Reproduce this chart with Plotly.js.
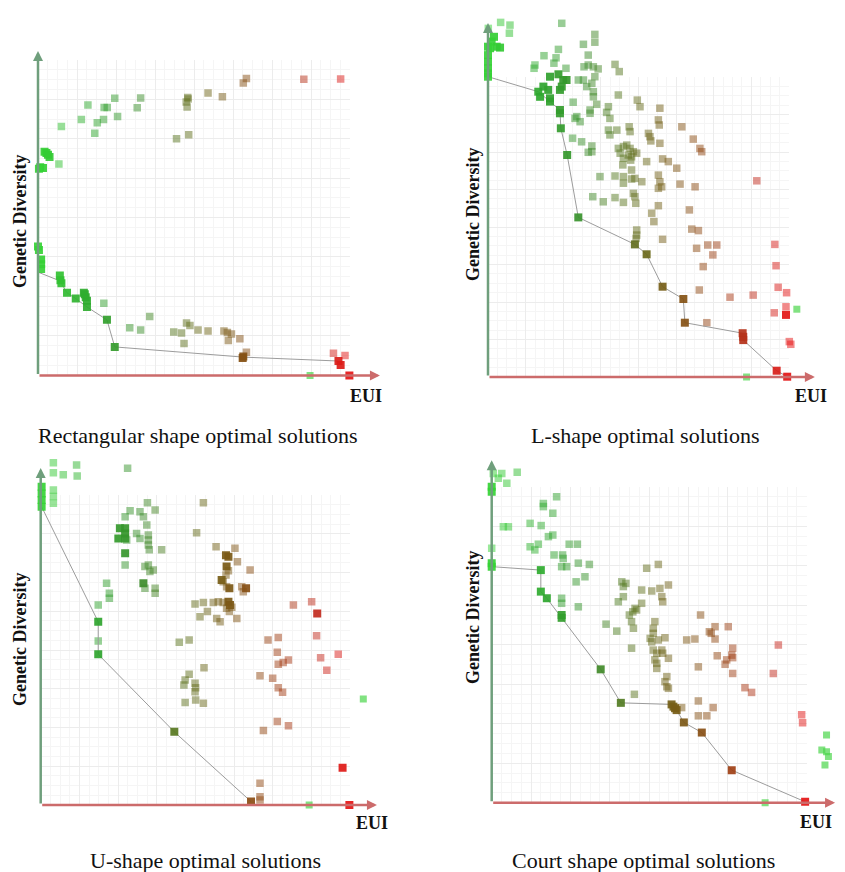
<!DOCTYPE html>
<html><head><meta charset="utf-8">
<script src="https://cdn.plot.ly/plotly-3.0.1.min.js"></script>
<style>html,body{margin:0;padding:0;background:#fff}#chart{width:845px;height:872px}</style>
</head><body><div id="chart"></div>
<script>
// ---------- DATA (EUI index 0-100, Genetic Diversity index 0-100) ----------
// Rectangular shape
const rectFadedX = [66.8,65.8,85.2,97.0,48.0,47.5,47.8,48.1,54.5,59.1,24.6,32.9,16.0,21.2,22.2,31.8,25.5,13.9,19.0,21.0,7.5,18.2,44.4,48.3,21.1,35.8,29.4,32.9,43.5,46.0,46.8,47.6,48.7,51.3,54.5,59.6,60.7,62.0,61.0,64.7,66.8,94.7,98.4,6.7];
const rectFadedY = [98.9,97.4,98.6,98.7,92.5,91.0,89.4,92.0,94.0,92.8,92.3,92.4,90.0,89.2,89.2,89.1,86.2,85.2,84.1,85.2,82.9,80.6,78.8,80.1,24.0,19.6,15.9,15.1,14.5,14.1,10.6,17.5,16.6,15.1,14.8,14.8,14.3,13.8,11.6,12.2,7.7,7.4,6.6,70.4];
const rectSolidX = [2.1,3.2,3.7,2.7,0.7,1.6,0.3,0,0.3,1,1,1,7.0,7.2,7.5,9.3,12.1,14.7,15.3,15.7,15.0,15.7,22.1,24.6,65.8,65.6,96.3,97.0,99.8];
const rectSolidY = [74.5,73.5,72.7,74.1,69.3,69.1,68.8,42.9,41.8,38.6,37.0,35.4,33.3,31.7,30.7,27.5,25.6,27.5,26.0,24.9,27.0,22.8,18.5,9.5,6.3,5.8,4.8,3.5,0];
const rectFrontX = [0,7.0,9.3,12.1,15.7,22.1,24.6,65.8,96.3];
const rectFrontY = [34.4,31.5,27.5,25.6,22.8,18.5,9.5,6.1,4.8];
const rectOddX = [87.2];
const rectOddY = [0];

// L-shape
const lFadedX = [4.2,7.3,7.1,0.1,24.5,35.5,35.5,31.7,23.4,18.6,22.6,21.9,33.3,42.2,43.6,15.6,15.3,25.9,31.9,33.3,35.0,36.6,35.5,30.0,31.7,32.8,34.5,35.0,35.0,36.1,43.3,28.3,33.9,33.9,40.0,39.4,40.5,29.5,30.6,28.9,49.6,50.5,57.1,56.6,56.9,46.9,47.2,40.0,42.8,40.5,53.3,53.8,54.1,64.4,28.1,31.1,34.5,34.5,33.3,43.3,45.0,46.1,47.2,48.3,43.9,46.6,47.7,49.4,45.0,44.8,47.4,52.7,57.1,68.2,70.4,71.0,58.0,59.9,62.7,47.7,37.2,42.2,45.0,47.7,48.8,51.1,45.0,56.6,57.1,57.7,56.6,63.8,68.8,89.3,48.3,48.8,34.8,42.2,38.3,45.0,49.1,56.6,54.4,55.1,66.9,67.7,69.9,49.4,49.4,49.2,58.0,69.3,73.0,76.0,74.7,71.5,70.2,80.4,88.1,95.3,95.7,96.4,99.2,99.0,95.1,100.1,100.6,72.7];
const lFadedY = [118.2,117.3,114.6,116.2,117.9,114.2,111.6,110.9,109.2,107.1,106.4,104.6,107.3,104.2,101.8,104,102.9,102.9,103.4,104,103.4,102.7,100.1,99,99,96.8,97.9,95.1,93.4,90.9,94,91.6,89,87.9,90.1,88.2,86.2,86.8,85.1,86.2,92.3,90.1,89.6,85.7,84,83.4,81.8,82.3,82.3,80.7,81.2,80.1,78.7,83.4,79.6,78.4,77,75.1,74.9,76.2,76.8,77.3,76.2,75.1,74.6,74,73.4,74.6,72.9,70.7,72.3,71.8,77.9,79.3,76.2,75.1,72.7,71.8,69.6,69,66.8,67,66.8,66,66.2,65.1,64.6,67.3,65.1,63.4,62.9,64.3,63.4,65.4,61.2,60.1,60.1,59.8,58.4,58.2,57.9,57.1,54.6,51.8,55.7,49.3,48.8,49,47.3,46.2,45.9,42.9,44,44,40.7,36.8,29,26.6,27.3,44.2,37.1,29.9,28.1,23.4,21.4,11.8,10.9,18.1];
const lSolidX = [2.0,1.2,2.9,4.0,0.7,0,0,0,0,0,0,20.6,23.4,25.0,26.1,24.5,23.9,16.7,17.3,18.4,20.0,20.6,20.6,23.9,23.9,24.2,26.3,30.0,48.8,52.7,58.0,64.9,65.4,84.6,84.8,84.8,95.9,99.4,99.0];
const lSolidY = [113.4,111.8,110.1,109.8,109.6,110.1,107.3,105.1,102.9,101.2,100.1,100.1,100.9,99,99,96.8,95.7,95.1,93.4,96.8,95.7,92.9,91.8,89,87.9,82.9,74,53.2,44.2,40.9,30.1,26,18.1,14.6,13.4,12.3,2.1,0.1,20.7];
const lFrontX = [0,16.7,20.6,23.9,24.2,26.3,30.0,48.8,52.7,58.0,64.9,65.4,84.6,84.8,95.9,99.4];
const lFrontY = [100.1,95.1,91.8,89,82.9,74,53.2,44.2,40.9,30.1,26,18.1,14.6,12.3,2.1,0.1];
const lOddX = [102.6,85.9];
const lOddY = [22.6,0];

// U-shape
const uFadedX = [4.1,4.1,7.3,11.6,11.8,28.1,4.1,4.1,4.1,34.5,37.0,28.9,32.1,33.2,27.3,34.3,27.8,31.0,32.1,34.8,34.8,34.8,35.1,39.1,27.3,33.7,34.8,35.3,36.4,33.7,37.0,37.0,21.3,22.2,22.2,18.6,52.6,50.4,56.7,62.8,63.6,60.7,59.9,67.7,59.0,60.1,65.0,65.5,49.9,52.6,55.8,57.4,59.0,60.1,61.8,51.5,53.9,56.9,58.0,63.4,61.0,81.7,87.6,18.6,44.8,48.0,52.8,48.0,46.7,46.3,49.9,50.1,49.9,46.7,50.1,52.6,73.5,76.8,76.5,76.8,78.4,80.1,70.9,75.0,76.8,78.2,89.2,90.5,92.5,96.2,76.5,80.1,72.0,70.9,70.9,70.9];
const uFadedY = [110.4,107.2,106.5,109.7,106.1,108.6,101.6,99.5,97.3,97.5,95.2,94.9,94.6,93,93,90.3,85.5,87.6,86,87.1,85.5,83.9,82.3,82.3,77.4,76.9,77.4,75.3,75.8,69.9,69.9,68.3,71.5,68.3,66.7,64.5,97.5,87.8,83.3,82.8,78.5,75.6,74.2,75.8,72,70.4,70.4,68.8,64.8,65.3,65.3,65.6,65.3,63.5,63.8,60.7,62.4,60.2,59.1,60.2,62.4,64.5,65.6,52.9,52.5,53.2,44.3,42.2,40.3,38.7,39.3,37.8,36.5,33.1,33.9,32.8,53.2,54,49.3,45.4,46,46.8,41.7,40.9,37.8,36.4,54.6,47.5,43.5,48.6,26.9,25.6,24,7,2.7,1.6];
const uSolidX = [0.3,0.3,0.3,0.3,25.6,27.3,27.3,25.1,27.3,27.3,33.2,59.9,60.7,60.1,58.5,61.0,66.4,60.7,61.2,18.6,18.6,43.2,68.0,99.8,97.6,89.4];
const uSolidY = [102.7,100.5,98.4,96.2,89.3,89.3,87.6,86,86,81.2,71.5,80.6,80.1,76.9,72.6,69.9,69.9,65.6,64.5,59.1,48.6,23.6,1.1,0,12,61.8];
const uFrontX = [0.3,18.6,18.6,43.2,68.0];
const uFrontY = [96.2,59.1,48.6,23.6,1.1];
const uOddX = [104.3,86.8];
const uOddY = [34.2,0];

// Court shape
const cFadedX = [0.5,3.2,2.1,4.8,8.1,0,20.6,16.4,16.4,19.4,3.7,5.3,12.2,15.7,18.0,19.4,12.2,13.7,14.8,24.6,27.2,19.8,22.5,22.7,22.2,23.8,27.5,31.0,29.6,26.8,22.2,22.2,27.5,49.2,52.9,41.3,42.6,41.8,47.6,50.8,53.4,56.1,54.0,54.3,40.2,41.8,47.6,45.5,44.8,46.0,43.7,44.4,45.0,36.3,39.7,51.8,51.3,51.3,66.3,70.9,69.1,75.1,69.7,55.0,44.4,50.3,50.8,52.9,61.9,64.5,70.9,51.3,52.4,54.3,56.1,51.8,52.4,52.4,54.0,55.6,55.0,55.6,56.1,76.5,76.2,74.6,74.1,76.5,71.6,65.6,76.5,91.0,89.4,80.4,82.5,45.3,60.3,65.6,70.3,65.6,68.3,98.4,98.7];
const cFadedY = [104.2,104.2,102.7,101.1,104.6,80.5,96.8,94.7,93.7,91.6,87.3,87.3,88.4,87.7,84.2,84.7,81,80,81.8,81.8,81.8,78.4,78.4,77.3,74.7,74.7,75.8,75.4,71.5,69.9,64.7,63.1,62,74.2,75.4,69.9,69.4,68.4,67.3,67,67.8,68.9,65.2,63.6,63.6,65.2,63.1,61.5,60.4,61,59.4,57.3,55.2,56.5,54.3,57.3,55.2,53.6,59.4,55.7,54.1,55.7,53.6,52.2,48.9,52,50.9,51.5,51.5,51.8,51.8,48.3,47.3,47.3,45.7,45.2,44.1,42.5,48.3,39.9,38.3,36.7,36.2,48.9,46.7,45.2,43.8,45.9,46.5,43,40.9,49.9,40.9,36.4,34.9,34.3,30.1,32.2,30.1,27.5,27.5,27.8,25.3];
const cSolidX = [0,0,0,0,15.6,15.6,17.5,22.2,22.2,34.6,41.0,57.1,57.7,58.2,58.7,61.0,66.7,76.2,99.5];
const cSolidY = [100,98.4,75.8,74.7,73.6,66.8,64.7,59.4,58.5,42.2,31.6,31.1,30.4,29.9,29.3,25.4,22.2,10.3,0.3];
const cFrontX = [0,15.6,15.6,17.5,22.2,34.6,41.0,57.1,58.7,61.0,66.7,76.2,99.5];
const cFrontY = [74.7,73.6,66.8,64.7,58.5,42.2,31.6,31.1,29.3,25.4,22.2,10.3,0.3];
const cOddX = [106.3,104.8,106.3,106.9,105.8,86.8];
const cOddY = [21.4,16.7,16.1,14.6,11.9,0];

const captions = ['Rectangular shape optimal solutions','L-shape optimal solutions','U-shape optimal solutions','Court shape optimal solutions'];
const yLabel = 'Genetic Diversity';
const xLabel = 'EUI';

// ---------- LAYOUT ----------
const W = 845, H = 872;
const fx = p => p / W, fy = p => 1 - p / H;
const SERIF = '"Liberation Serif", "Times New Roman", Times, serif';
const XR = [-3, 112], YR = [-3, 125];   // data-axis extents (grid covers 0-100)

const panels = [
  {fx:rectFadedX, fyy:rectFadedY, sx:rectSolidX, sy:rectSolidY, lx:rectFrontX, ly:rectFrontY, ox:rectOddX, oy:rectOddY,
   g:{x0:38, x1:350, top:60, bot:375, yTop:108, xEnd:109.6, lab:[20,222], eui:[366,396], cap:[197.5,435]}},
  {fx:lFadedX, fyy:lFadedY, sx:lSolidX, sy:lSolidY, lx:lFrontX, ly:lFrontY, ox:lOddX, oy:lOddY,
   g:{x0:488, x1:789, top:77, bot:377, yTop:118, xEnd:108.6, lab:[473,214], eui:[811,396], cap:[645,435]}},
  {fx:uFadedX, fyy:uFadedY, sx:uSolidX, sy:uSolidY, lx:uFrontX, ly:uFrontY, ox:uOddX, oy:uOddY,
   g:{x0:40.7, x1:350, top:495, bot:805, yTop:108.7, xEnd:108.7, lab:[20,640], eui:[372,823], cap:[205,860]}},
  {fx:cFadedX, fyy:cFadedY, sx:cSolidX, sy:cSolidY, lx:cFrontX, ly:cFrontY, ox:cOddX, oy:cOddY,
   g:{x0:491.7, x1:806.7, top:486.7, bot:802.7, yTop:108.4, xEnd:109, lab:[473,617], eui:[816,822], cap:[643.5,860]}}
];

const cscale = [[0,'#35d335'],[0.18,'#2ea52e'],[0.32,'#3a8f2c'],[0.42,'#557a22'],[0.52,'#6a6a1c'],[0.6,'#7a5a16'],[0.7,'#8f4a14'],[0.8,'#a83a16'],[0.9,'#c42a1e'],[1,'#e61414']];

const traces = [];
const layout = {
  width: W, height: H, margin:{l:0,r:0,t:0,b:0},
  paper_bgcolor:'#ffffff', plot_bgcolor:'rgba(0,0,0,0)', showlegend:false,
  annotations: []
};
const axName = (k, n) => n === 1 ? k : k + n;
const axId = (k, n) => n === 1 ? k : k + n;

panels.forEach((p, i) => {
  const g = p.g;
  const gN = i + 1, dN = i + 5;
  const ux = (g.x1 - g.x0) / 100, uy = (g.bot - g.top) / 100;
  // grid axes (0-100 over the grid area)
  const gridAx = {range:[0,100], showline:false, zeroline:false, showticklabels:false, ticks:'',
    tickmode:'linear', tick0:0, dtick:12.5, showgrid:true, gridcolor:'#ececec', gridwidth:1,
    minor:{tickmode:'linear', tick0:0, dtick:3.125, showgrid:true, gridcolor:'#f5f5f5', gridwidth:1},
    fixedrange:true};
  layout[axName('xaxis', gN)] = Object.assign({}, gridAx, {domain:[fx(g.x0), fx(g.x1)], anchor: axId('y', gN)});
  layout[axName('yaxis', gN)] = Object.assign({}, gridAx, {domain:[fy(g.bot), fy(g.top)], anchor: axId('x', gN)});
  traces.push({type:'scatter', mode:'markers', x:[], y:[], xaxis:axId('x', gN), yaxis:axId('y', gN), hoverinfo:'skip'});
  // data axes (same scale, larger extent so off-grid points are drawn)
  const dataAx = {showline:false, zeroline:false, showticklabels:false, ticks:'', showgrid:false, fixedrange:true};
  layout['xaxis' + dN] = Object.assign({}, dataAx, {range:XR, anchor:'y' + dN,
    domain:[fx(g.x0 + XR[0]*ux), fx(g.x0 + XR[1]*ux)]});
  layout['yaxis' + dN] = Object.assign({}, dataAx, {range:YR, anchor:'x' + dN,
    domain:[fy(g.bot - YR[0]*uy), fy(g.bot - YR[1]*uy)]});
  const xa = 'x' + dN, ya = 'y' + dN;

  traces.push({type:'scatter', mode:'markers', x:p.fx, y:p.fyy, xaxis:xa, yaxis:ya, hoverinfo:'skip',
    marker:{symbol:'square', size:7.5, color:p.fx, cmin:0, cmax:100, colorscale:cscale, opacity:0.5, line:{width:0}}});
  traces.push({type:'scatter', mode:'lines', x:p.lx, y:p.ly, xaxis:xa, yaxis:ya, hoverinfo:'skip',
    line:{color:'#9c9c9c', width:1}});
  traces.push({type:'scatter', mode:'markers', x:p.sx, y:p.sy, xaxis:xa, yaxis:ya, hoverinfo:'skip',
    marker:{symbol:'square', size:8, color:p.sx, cmin:0, cmax:100, colorscale:cscale, opacity:0.92, line:{width:0}}});
  traces.push({type:'scatter', mode:'markers', x:p.ox, y:p.oy, xaxis:xa, yaxis:ya, hoverinfo:'skip',
    marker:{symbol:'square', size:7, color:'#4cd64c', opacity:0.7, line:{width:0}}});

  // axis arrows
  layout.annotations.push({xref:xa, yref:ya, axref:xa, ayref:ya, x:0, y:g.yTop, ax:0, ay:0, text:'',
    showarrow:true, arrowhead:2, arrowsize:0.8, arrowwidth:2.5, arrowcolor:'#6f9f7c', standoff:0});
  layout.annotations.push({xref:xa, yref:ya, axref:xa, ayref:ya, x:g.xEnd, y:0, ax:0, ay:0, text:'',
    showarrow:true, arrowhead:2, arrowsize:0.8, arrowwidth:2.5, arrowcolor:'#cc6b6b', standoff:0});
  // labels
  layout.annotations.push({xref:'paper', yref:'paper', x:fx(g.lab[0]), y:fy(g.lab[1]), text:'<b>'+yLabel+'</b>',
    textangle:-90, showarrow:false, xanchor:'center', yanchor:'middle', font:{family:SERIF, size:18, color:'#111'}});
  layout.annotations.push({xref:'paper', yref:'paper', x:fx(g.eui[0]), y:fy(g.eui[1]), text:'<b>'+xLabel+'</b>',
    showarrow:false, xanchor:'center', yanchor:'middle', font:{family:SERIF, size:18, color:'#111'}});
  layout.annotations.push({xref:'paper', yref:'paper', x:fx(g.cap[0]), y:fy(g.cap[1]), text:captions[i],
    showarrow:false, xanchor:'center', yanchor:'middle', font:{family:SERIF, size:22, color:'#111'}});
});

Plotly.newPlot('chart', traces, layout, {staticPlot:true, displayModeBar:false});
</script></body></html>
